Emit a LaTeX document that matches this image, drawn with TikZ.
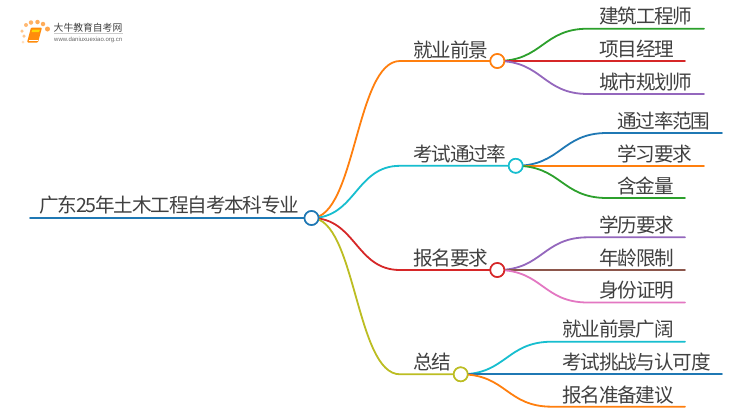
\documentclass[tikz,border=0pt]{standalone}
\usepackage{fontspec}
\setmainfont{Noto Sans CJK SC}[LetterSpace=-6]
\newfontfamily\brandfont{Noto Sans CJK SC}
\newfontfamily\logofont{Liberation Sans}
\usetikzlibrary{calc}
\definecolor{cBlue}{HTML}{1F78B4}
\definecolor{cOrange}{HTML}{FF7F0E}
\definecolor{cCyan}{HTML}{17BECF}
\definecolor{cRed}{HTML}{D62728}
\definecolor{cOlive}{HTML}{BCBD22}
\definecolor{cGreen}{HTML}{2CA02C}
\definecolor{cPurple}{HTML}{9467BD}
\definecolor{cBrown}{HTML}{8C564B}
\definecolor{cPink}{HTML}{E377C2}
\definecolor{cText}{HTML}{404040}
\tikzset{
  x=1pt,y=-1pt,
  lbl/.style={anchor=base west,inner sep=0pt,text=cText,font=\fontsize{19.6pt}{21pt}\selectfont},
  hub/.style={circle,draw=#1,fill=white,line width=1.6pt,minimum size=14pt,inner sep=0pt},
  wire/.style={line width=1.8pt,draw=#1,line cap=round},
  dot/.style={circle,fill=#1,inner sep=0pt},
}
\newcommand{\fan}[4]{% from, to-bend, to-end, colour
  \coordinate (mid) at ($(#1.center)!0.5!(#2)$);
  \draw[wire=#4] (#1.center) .. controls (mid |- #1.center) and (mid |- #2) .. (#2) -- (#3);
}
\begin{document}
\begin{tikzpicture}
\useasboundingbox (0,0) rectangle (750,410);
\fill[white] (0,0) rectangle (750,410);
% logo
\node[dot=orange!25,minimum size=3pt] (d0) at (23,42) {};
\node[dot=orange!45,minimum size=3.500pt] (d1) at (24,36) {};
\node[dot=orange!45,minimum size=3.500pt] (d2) at (22,31) {};
\node[dot=orange!55,minimum size=4pt] (d3) at (26,25) {};
\node[dot=orange!60,minimum size=4.500pt] (d4) at (31,22.500) {};
\node[dot=orange!65,minimum size=4.500pt] (d5) at (37.500,22) {};
\node[dot=orange!65,minimum size=4.500pt] (d6) at (43,24) {};
\node[dot=orange!70,minimum size=5pt] (d7) at (47.500,29) {};
\fill[cOrange!90!yellow,rounded corners=1pt] (31,27.500) -- (42,27.500) -- (38,42.500) -- (27,42.500) -- cycle;
\fill[yellow!75!orange] (32.500,29.500) -- (40,29.500) -- (39,32) -- (31.500,32) -- cycle;
\draw[white,line width=.6pt] (28.500,40) -- (38,40);
\node[inner sep=0pt,anchor=base west,text=black!75,font=\brandfont\fontsize{9.800pt}{12pt}\selectfont] (brand) at (53.500,31) {大牛教育自考网};
\draw[black!20,line width=.6pt] (54,33.500) -- (123,33.500);
\node[inner sep=0pt,anchor=base west,text=black!60,font=\logofont\fontsize{6pt}{7pt}\selectfont] (site) at (54,41) {www.daniuxuexiao.org.cn};
% anchors
\node[hub=cBlue] (root) at (311.500,218) {};
\node[hub=cOrange] (a) at (497.300,61) {};
\node[hub=cCyan] (b) at (515.700,165.800) {};
\node[hub=cRed] (c) at (497.300,270) {};
\node[hub=cOlive] (d) at (460.700,374.300) {};
\coordinate (rs) at (30,218);
\coordinate (a0) at (400,61);
\coordinate (b0) at (400,165.800);
\coordinate (c0) at (400,270);
\coordinate (d0) at (400,374.300);
\coordinate (a1b) at (588,28.700);   \coordinate (a1e) at (704,28.700);
\coordinate (a2b) at (588,61);       \coordinate (a2e) at (685,61);
\coordinate (a3b) at (588,94);       \coordinate (a3e) at (704,94);
\coordinate (b1b) at (607,133);      \coordinate (b1e) at (722,133);
\coordinate (b2b) at (607,165.800);  \coordinate (b2e) at (704,165.800);
\coordinate (b3b) at (607,198);      \coordinate (b3e) at (685,198);
\coordinate (c1b) at (588,237.300);  \coordinate (c1e) at (685,237.300);
\coordinate (c2b) at (588,270);      \coordinate (c2e) at (685,270);
\coordinate (c3b) at (588,302.500);  \coordinate (c3e) at (685,302.500);
\coordinate (d1b) at (552,341.700);  \coordinate (d1e) at (685,341.700);
\coordinate (d2b) at (552,374.300);  \coordinate (d2e) at (722,374.300);
\coordinate (d3b) at (552,406.700);  \coordinate (d3e) at (685,406.700);
% connectors
\draw[wire=cBlue] (rs) -- (root.center);
\fan{root}{a0}{a.center}{cOrange}
\fan{root}{b0}{b.center}{cCyan}
\fan{root}{c0}{c.center}{cRed}
\fan{root}{d0}{d.center}{cOlive}
\fan{a}{a1b}{a1e}{cGreen}
\fan{a}{a2b}{a2e}{cRed}
\fan{a}{a3b}{a3e}{cPurple}
\fan{b}{b1b}{b1e}{cBlue}
\fan{b}{b2b}{b2e}{cOrange}
\fan{b}{b3b}{b3e}{cGreen}
\fan{c}{c1b}{c1e}{cPurple}
\fan{c}{c2b}{c2e}{cBrown}
\fan{c}{c3b}{c3e}{cPink}
\fan{d}{d1b}{d1e}{cCyan}
\fan{d}{d2b}{d2e}{cBlue}
\fan{d}{d3b}{d3e}{cOrange}
% redraw hubs over connectors
\node[hub=cBlue] at (root) {};
\node[hub=cOrange] at (a) {};
\node[hub=cCyan] at (b) {};
\node[hub=cRed] at (c) {};
\node[hub=cOlive] at (d) {};
% labels
\node[lbl] (troot) at (39,212.300) {广东25年土木工程自考本科专业};
\node[lbl] (ta) at (413,57) {就业前景};
\node[lbl] (tb) at (413,161) {考试通过率};
\node[lbl] (tc) at (413,265) {报名要求};
\node[lbl] (td) at (413,369.500) {总结};
\node[lbl] (ta1) at (599,23.500) {建筑工程师};
\node[lbl] (ta2) at (599,56.500) {项目经理};
\node[lbl] (ta3) at (599,89) {城市规划师};
\node[lbl] (tb1) at (617,128) {通过率范围};
\node[lbl] (tb2) at (617,161) {学习要求};
\node[lbl] (tb3) at (617,193.500) {含金量};
\node[lbl] (tc1) at (599,232.500) {学历要求};
\node[lbl] (tc2) at (599,265) {年龄限制};
\node[lbl] (tc3) at (599,297.500) {身份证明};
\node[lbl] (td1) at (562,336.500) {就业前景广阔};
\node[lbl] (td2) at (562,369.500) {考试挑战与认可度};
\node[lbl] (td3) at (562,402) {报名准备建议};
\end{tikzpicture}
\end{document}
